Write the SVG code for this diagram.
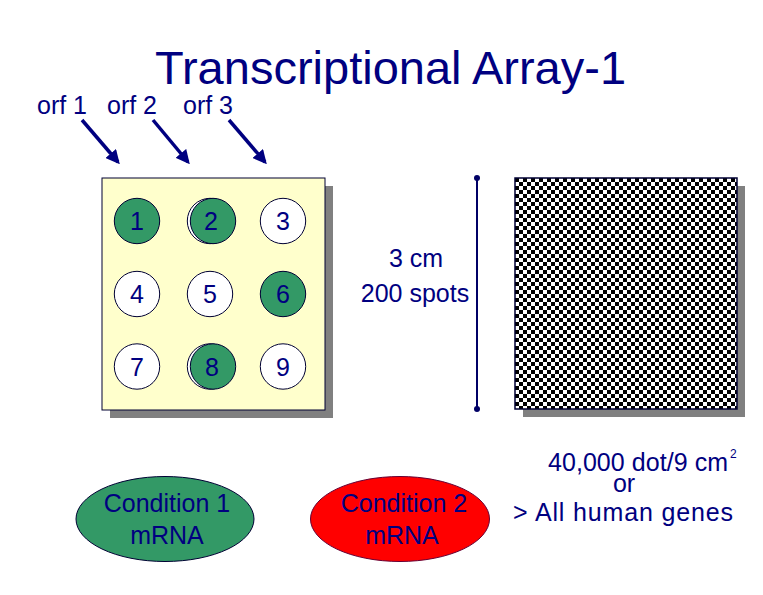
<svg xmlns="http://www.w3.org/2000/svg" width="763" height="595" viewBox="0 0 763 595">
<style>
text{font-family:"Liberation Sans",Arial,sans-serif;fill:#000080}
.t{font-size:25px}
.c{text-anchor:middle}
.w{fill:#ffffff;stroke:#000033;stroke-width:1}
.g{fill:#339966;stroke:#000033;stroke-width:1}
.arr{stroke:#000080;stroke-width:3.5;fill:none;marker-end:url(#ah)}
</style>
<defs>
<marker id="ah" viewBox="0 0 10 10" refX="8" refY="5" markerWidth="4" markerHeight="4" orient="auto" markerUnits="strokeWidth">
<path d="M0,0 L10,5 L0,10 z" fill="#000080"/>
</marker>
<pattern id="chk" width="8" height="8" patternUnits="userSpaceOnUse" x="515" y="178">
<rect width="8" height="8" fill="#ffffff"/>
<rect width="4" height="4" fill="#000000"/>
<rect x="4" y="4" width="4" height="4" fill="#000000"/>
</pattern>
</defs>
<rect width="763" height="595" fill="#ffffff"/>
<g id="title"><text x="155" y="84" style="font-size:47px">Transcriptional Array-1</text></g>
<g id="orf-labels">
<text class="t" x="37" y="114">orf 1</text>
<text class="t" x="107" y="114">orf 2</text>
<text class="t" x="183" y="114">orf 3</text>
</g>
<g id="connectors">
<line class="arr" x1="82" y1="120" x2="118" y2="162"/>
<line class="arr" x1="153" y1="120" x2="188" y2="162"/>
<line class="arr" x1="229" y1="120" x2="265" y2="162"/>
<line x1="477" y1="178" x2="477" y2="409" stroke="#000066" stroke-width="2"/>
<circle cx="477" cy="178" r="3" fill="#000066"/>
<circle cx="477" cy="409" r="3" fill="#000066"/>
</g>
<g id="array-panel">
<rect x="110" y="186" width="223" height="232" fill="#808080"/>
<rect x="102" y="178" width="223" height="232" fill="#ffffcc" stroke="#000033" stroke-width="1"/>
</g>
<g id="spot-1"><circle class="g" cx="137" cy="221" r="22.7"/><text class="t c" x="137" y="230">1</text></g>
<g id="spot-2"><circle class="w" cx="210" cy="221" r="22.7"/><circle class="g" cx="213" cy="221" r="22.7"/><text class="t c" x="211" y="230">2</text></g>
<g id="spot-3"><circle class="w" cx="283" cy="221" r="22.7"/><text class="t c" x="283" y="230">3</text></g>
<g id="spot-4"><circle class="w" cx="137" cy="294" r="22.7"/><text class="t c" x="137" y="303">4</text></g>
<g id="spot-5"><circle class="w" cx="210" cy="294" r="22.7"/><text class="t c" x="210" y="303">5</text></g>
<g id="spot-6"><circle class="g" cx="283" cy="294" r="22.7"/><text class="t c" x="283" y="303">6</text></g>
<g id="spot-7"><circle class="w" cx="137" cy="366.5" r="22.7"/><text class="t c" x="137" y="375.5">7</text></g>
<g id="spot-8"><circle class="w" cx="210" cy="366.5" r="22.7"/><circle class="g" cx="213" cy="366.5" r="22.7"/><text class="t c" x="212" y="375.5">8</text></g>
<g id="spot-9"><circle class="w" cx="283" cy="366.5" r="22.7"/><text class="t c" x="283" y="375.5">9</text></g>
<g id="size-label">
<text class="t c" x="416" y="267">3 cm</text>
<text class="t c" x="415" y="302">200 spots</text>
</g>
<g id="dense-array">
<rect x="523" y="186" width="222" height="231" fill="#808080"/>
<rect x="515" y="178" width="222" height="231" fill="url(#chk)" stroke="#000033" stroke-width="1.5"/>
</g>
<g id="condition-1"><ellipse cx="165" cy="519" rx="89" ry="42.5" fill="#339966" stroke="#000033" stroke-width="1"/>
<text class="t c" x="167" y="512">Condition 1</text><text class="t c" x="167" y="544">mRNA</text></g>
<g id="condition-2"><ellipse cx="400" cy="519" rx="89.5" ry="42.5" fill="#ff0000" stroke="#660033" stroke-width="1"/>
<text class="t c" x="404" y="512">Condition 2</text><text class="t c" x="402" y="544">mRNA</text></g>
<g id="density-note">
<text class="t" x="548" y="471" textLength="180" lengthAdjust="spacing">40,000 dot/9 cm</text>
<text x="730" y="458" style="font-size:12px">2</text>
<text class="t c" x="624" y="492">or</text>
<text class="t" x="513" y="521" textLength="220" lengthAdjust="spacing">&gt; All human genes</text>
</g>
</svg>
